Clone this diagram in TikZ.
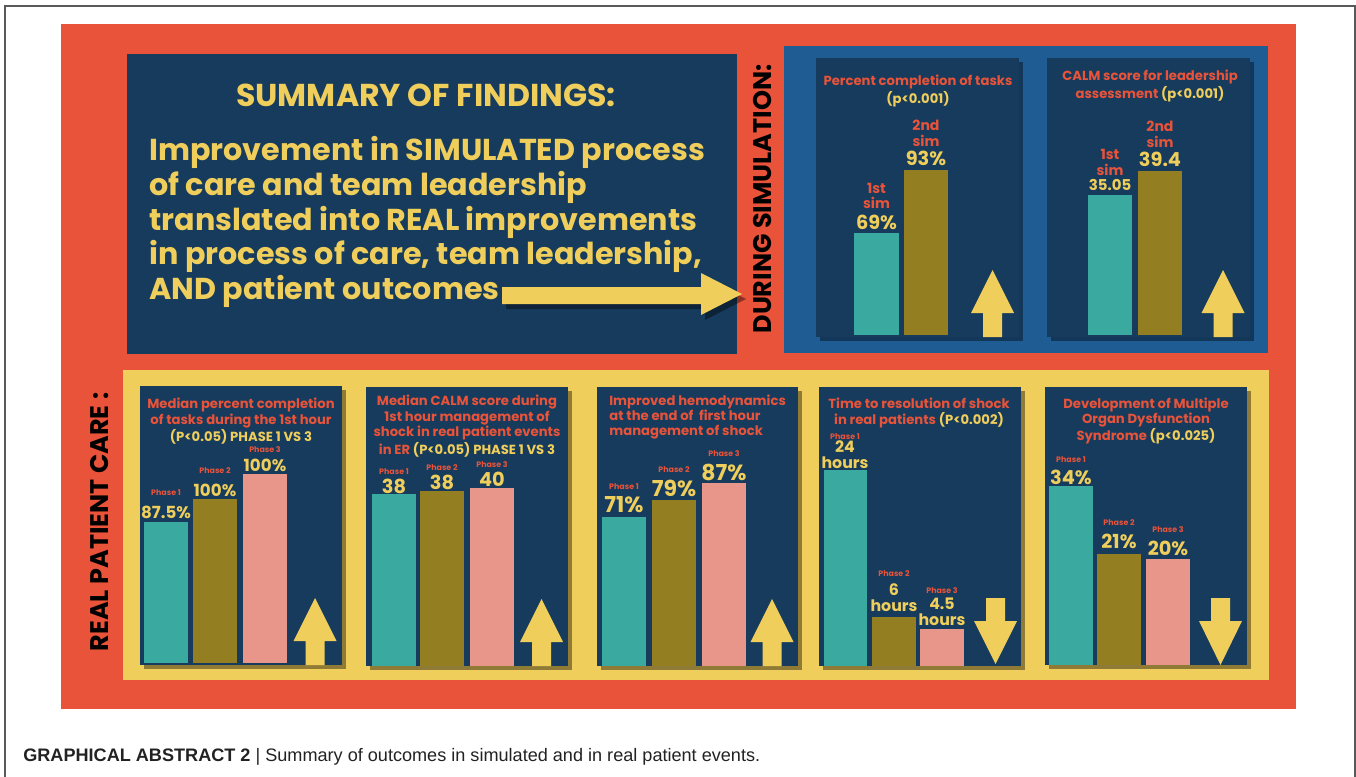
\documentclass[tikz,border=0pt]{standalone}
\usepackage{fontspec}
\setmainfont{Poppins}
\newfontfamily\capfont{Liberation Sans}
\usepackage{xcolor}
\usepackage{graphicx}

\definecolor{bgorange}{HTML}{E8533A}
\definecolor{navy}{HTML}{173B5C}
\definecolor{simblue}{HTML}{1F5C94}
\definecolor{sunyellow}{HTML}{EFCE5B}
\definecolor{barteal}{HTML}{3AA99F}
\definecolor{barolive}{HTML}{937E21}
\definecolor{barpink}{HTML}{E8968A}
\definecolor{capgray}{HTML}{222222}

\tikzset{
  panel/.style={fill=navy},
  shade/.style={fill=black, opacity=0.4},
  ttl/.style={text=bgorange, font=\bfseries\fontsize{7.5}{8.8}\selectfont, align=center, inner sep=0pt},
  tag/.style={text=bgorange, font=\bfseries\fontsize{8}{9}\selectfont, align=center, inner sep=0pt},
  phase/.style={text=bgorange, font=\bfseries\fontsize{4.5}{5}\selectfont, inner sep=0pt},
  val/.style={text=sunyellow, font=\bfseries\fontsize{#1}{#1}\selectfont, align=center, inner sep=0pt},
  val/.default=11,
  sidelabel/.style={text=black, font=\bfseries\fontsize{14.5}{15}\selectfont, rotate=90, inner sep=0pt},
  blockarrow/.style={fill=sunyellow}
}

\begin{document}
\begin{tikzpicture}[x=0.02cm, y=-0.02cm]
        \useasboundingbox (0,0) rectangle (1356,777);
        \draw[line width=1pt, gray!70!black] (5,777) -- (5,6) -- (1355,6) -- (1355,777);

        % backgrounds
        \fill[bgorange] (61,24) rectangle (1296,709);
        \fill[simblue] (784,46) rectangle (1268,353);
        \fill[sunyellow] (123,370) rectangle (1269,680);

        % summary
        \fill[panel] (127,54) rectangle (737,354);
        \node[text=sunyellow, font=\bfseries\fontsize{18}{20}\selectfont, inner sep=0pt] (head) at (426,95) {SUMMARY OF FINDINGS:};
        \node[anchor=west, text=sunyellow, font=\bfseries\fontsize{17.2}{19.8}\selectfont, align=left, inner sep=0pt] (summary) at (149,222)
          {Improvement in SIMULATED process\\of care and team leadership\\translated into REAL improvements\\in process of care, team leadership,\\AND patient outcomes};
        \fill[shade] (506,292) -- (705,292) -- (705,278) -- (746,299) -- (705,320) -- (705,309) -- (506,309) -- cycle;
        \fill[blockarrow] (502,287) -- (701,287) -- (701,273) -- (742,294) -- (701,315) -- (701,304) -- (502,304) -- cycle;

        \node[sidelabel] (during) at (763,199) {DURING SIMULATION:};
        \node[sidelabel] (real) at (100,522) {REAL PATIENT CARE :};

        % during simulation, tasks
        \fill[shade] (820,62) rectangle (1023,341);
        \fill[panel] (816,58) rectangle (1019,337);
        \node[ttl] (tasks) at (918,91) {Percent completion of tasks\\\textcolor{sunyellow}{(p<0.001)}};
        \fill[barteal] (854,233) rectangle (899,335);
        \fill[barolive] (904,170) rectangle (948,335);
        \node[tag] (tasksa) at (876.5,196) {1st\\sim};
        \node[val] (tasksav) at (876.5,222) {69\%};
        \node[tag] (tasksb) at (926,133) {2nd\\sim};
        \node[val] (tasksbv) at (926,158) {93\%};
        \fill[blockarrow] (983,337) -- (983,313) -- (971,313) -- (992.5,270) -- (1014,313) -- (1002,313) -- (1002,337) -- cycle;

        % during simulation, CALM
        \fill[shade] (1051,62) rectangle (1254,341);
        \fill[panel] (1047,58) rectangle (1250,337);
        \node[ttl] (calm) at (1150,86) {CALM score for leadership\\assessment \textcolor{sunyellow}{(p<0.001)}};
        \fill[barteal] (1088,195) rectangle (1132,335);
        \fill[barolive] (1138,171) rectangle (1182,335);
        \node[tag] (calma) at (1110,162.5) {1st\\sim};
        \node[val=8.5] (calmav) at (1110,185) {35.05};
        \node[tag] (calmb) at (1160,134) {2nd\\sim};
        \node[val] (calmbv) at (1160,159) {39.4};
        \fill[blockarrow] (1213.5,337) -- (1213.5,313) -- (1201.5,313) -- (1223,270) -- (1244.5,313) -- (1232.5,313) -- (1232.5,337) -- cycle;

        % real care, tasks
        \fill[shade] (144,390) rectangle (346,669);
        \fill[panel] (140,386) rectangle (342,665);
        \node[ttl] (rtasks) at (241,421.5) {Median percent completion\\of tasks during the 1st hour\\\textcolor{sunyellow}{(P<0.05) PHASE 1 VS 3}};
        \fill[barteal] (144,522) rectangle (188,663);
        \fill[barolive] (193,499) rectangle (237,663);
        \fill[barpink] (243,474) rectangle (287,663);
        \node[phase] (rtasks1) at (166,493) {Phase 1};
        \node[val=9.5] (rtasks1v) at (166,512) {87.5\%};
        \node[phase] (rtasks2) at (215,471) {Phase 2};
        \node[val=9.5] (rtasks2v) at (215,490) {100\%};
        \node[phase] (rtasks3) at (265,450) {Phase 3};
        \node[val=9.5] (rtasks3v) at (265,465) {100\%};
        \fill[blockarrow] (305.5,665) -- (305.5,641) -- (293.5,641) -- (315,598) -- (336.5,641) -- (324.5,641) -- (324.5,665) -- cycle;

        % real care, CALM
        \fill[shade] (370,391) rectangle (572,670);
        \fill[panel] (366,387) rectangle (568,666);
        \node[ttl] (rcalm) at (467,426) {Median CALM score during\\1st hour management of\\shock in real patient events\\in ER \textcolor{sunyellow}{(P<0.05) PHASE 1 VS 3}};
        \fill[barteal] (372,494) rectangle (416,666);
        \fill[barolive] (420,491) rectangle (464,666);
        \fill[barpink] (470,488) rectangle (514,666);
        \node[phase] (rcalm1) at (394,472) {Phase 1};
        \node[val] (rcalm1v) at (394,486) {38};
        \node[phase] (rcalm2) at (442,468) {Phase 2};
        \node[val] (rcalm2v) at (442,482) {38};
        \node[phase] (rcalm3) at (492,465) {Phase 3};
        \node[val] (rcalm3v) at (492,479) {40};
        \fill[blockarrow] (532,666) -- (532,642) -- (520,642) -- (541.5,599) -- (563,642) -- (551,642) -- (551,666) -- cycle;

        % real care, hemodynamics
        \fill[shade] (601,391) rectangle (802,670);
        \fill[panel] (597,387) rectangle (798,666);
        \node[ttl, anchor=west, align=left] (hemo) at (609,417) {Improved hemodynamics\\at the end of\ \ first hour\\management of shock};
        \fill[barteal] (602,517) rectangle (646,666);
        \fill[barolive] (652,500) rectangle (696,666);
        \fill[barpink] (702,483) rectangle (746,666);
        \node[phase] (hemo1) at (624,487) {Phase 1};
        \node[val=12.5] (hemo1v) at (624,505) {71\%};
        \node[phase] (hemo2) at (674,470) {Phase 2};
        \node[val=12.5] (hemo2v) at (674,488) {79\%};
        \node[phase] (hemo3) at (724,454) {Phase 3};
        \node[val=12.5] (hemo3v) at (724,472) {87\%};
        \fill[blockarrow] (762.5,666) -- (762.5,642) -- (750.5,642) -- (772,599) -- (793.5,642) -- (781.5,642) -- (781.5,666) -- cycle;

        % real care, shock resolution
        \fill[shade] (823,391) rectangle (1025,670);
        \fill[panel] (819,387) rectangle (1021,666);
        \node[ttl] (shock) at (919,413) {Time to resolution of shock\\in real patients \textcolor{sunyellow}{(P<0.002)}};
        \fill[barteal] (824,470) rectangle (867,666);
        \fill[barolive] (872,617) rectangle (916,666);
        \fill[barpink] (920,629) rectangle (964,666);
        \node[phase] (shock1) at (845,437) {Phase 1};
        \node[val=9] (shock1v) at (845,455) {24\\hours};
        \node[phase] (shock2) at (894,574) {Phase 2};
        \node[val=9] (shock2v) at (894,598) {6\\hours};
        \node[phase] (shock3) at (942,591) {Phase 3};
        \node[val=9] (shock3v) at (942,611.5) {4.5\\hours};
        \fill[blockarrow] (986,598) -- (986,621) -- (974,621) -- (995.5,664) -- (1017,621) -- (1005,621) -- (1005,598) -- cycle;

        % real care, organ dysfunction
        \fill[shade] (1049,391) rectangle (1251,669);
        \fill[panel] (1045,387) rectangle (1247,665);
        \node[ttl] (mods) at (1146,421) {Development of Multiple\\Organ Dysfunction\\Syndrome \textcolor{sunyellow}{(p<0.025)}};
        \fill[barteal] (1049,486) rectangle (1093,665);
        \fill[barolive] (1097,554) rectangle (1141,665);
        \fill[barpink] (1146,559) rectangle (1190,665);
        \node[phase] (mods1) at (1071,460) {Phase 1};
        \node[val] (mods1v) at (1071,477) {34\%};
        \node[phase] (mods2) at (1119,523) {Phase 2};
        \node[val] (mods2v) at (1119,541) {21\%};
        \node[phase] (mods3) at (1168,530) {Phase 3};
        \node[val] (mods3v) at (1168,548) {20\%};
        \fill[blockarrow] (1211,598) -- (1211,621) -- (1199,621) -- (1220.5,665) -- (1242,621) -- (1230,621) -- (1230,598) -- cycle;

        % caption
        \node[anchor=west, text=capgray, font=\capfont\fontsize{10.3}{12}\selectfont, inner sep=0pt] (caption) at (23,757)
          {\textbf{GRAPHICAL ABSTRACT 2} | Summary of outcomes in simulated and in real patient events.};
    \end{tikzpicture}
\end{document}
